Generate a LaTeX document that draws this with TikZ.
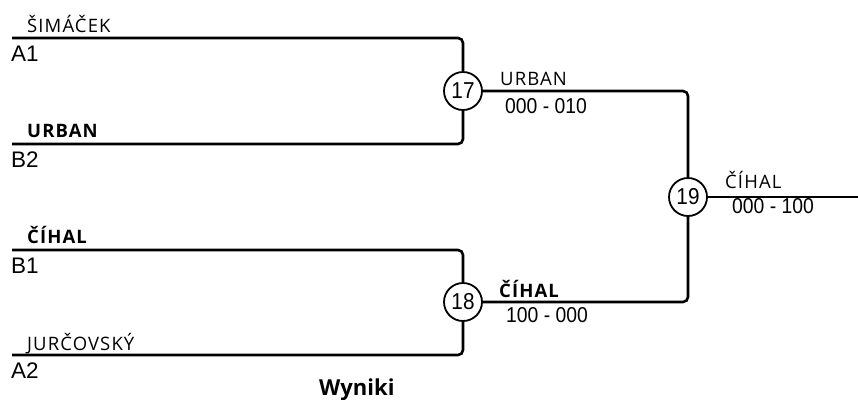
\documentclass[tikz,border=0pt]{standalone}
\usepackage{fontspec}
\setmainfont{Liberation Sans}
\newfontfamily\namefont[LetterSpace=6]{Open Sans}
\newfontfamily\titlefont{Open Sans}
\newfontfamily\scorefont[FakeStretch=0.9]{Liberation Sans}
\begin{document}
\begin{tikzpicture}[x=1bp,y=-1bp,
  wire/.style={line width=2.6bp, rounded corners=5bp},
  match/.style={circle, draw, line width=1.8bp, minimum size=38bp, inner sep=0pt, font=\scorefont\fontsize{23bp}{23bp}\selectfont},
  player/.style={anchor=base west, inner sep=0pt, font=\namefont\fontsize{18.5bp}{18.5bp}\selectfont},
  seed/.style={anchor=base west, inner sep=0pt, font=\fontsize{22.5bp}{22.5bp}\selectfont},
  score/.style={anchor=base west, inner sep=0pt, font=\scorefont\fontsize{21.5bp}{21.5bp}\selectfont},
  title/.style={anchor=base west, inner sep=0pt, font=\titlefont\bfseries\fontsize{22bp}{22bp}\selectfont}]
\useasboundingbox (0,0) rectangle (858,399);
% match circles
\node[match] (m17) at (463,91) {17};
\node[match] (m18) at (463,302) {18};
\node[match] (m19) at (688,197) {19};
% line starts
\coordinate (a1) at (12,38);
\coordinate (b2) at (12,144);
\coordinate (b1) at (12,250);
\coordinate (a2) at (12,355);
\coordinate (fin) at (858,197);
% wires
\draw[wire] (a1) -| (m17);
\draw[wire] (b2) -| (m17);
\draw[wire] (b1) -| (m18);
\draw[wire] (a2) -| (m18);
\draw[wire] (m17) -| (m19);
\draw[wire] (m18) -| (m19);
\draw[wire] (m19) -- (fin);
% left labels
\node[player] (n1) at (27,32) {ŠIMÁČEK};
\node[seed] (s1) at (11,61) {A1};
\node[player] (n2) at (27,137) {\bfseries URBAN};
\node[seed] (s2) at (11,167) {B2};
\node[player] (n3) at (27,243) {\bfseries ČÍHAL};
\node[seed] (s3) at (11,273) {B1};
\node[player] (n4) at (27,350) {JURČOVSKÝ};
\node[seed] (s4) at (11,378) {A2};
% winners and scores
\node[player] (w17) at (500,85) {URBAN};
\node[score] (r17) at (505,113) {000 - 010};
\node[player] (w18) at (499,297) {\bfseries ČÍHAL};
\node[score] (r18) at (506,322) {100 - 000};
\node[player] (w19) at (725,188) {ČÍHAL};
\node[score] (r19) at (732,213) {000 - 100};
% title
\node[title] (t) at (319,395) {Wyniki};
\end{tikzpicture}
\end{document}
